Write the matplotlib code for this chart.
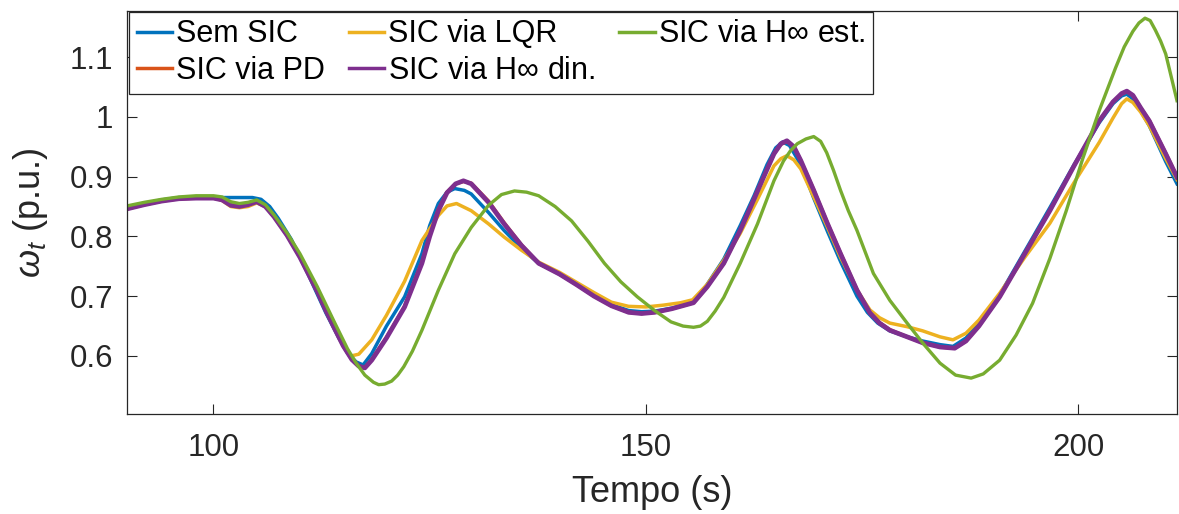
import matplotlib
matplotlib.use("Agg")
from matplotlib import pyplot as plt

plt.rcParams['font.family'] = ['Liberation Sans', 'DejaVu Sans']
plt.rcParams['mathtext.fontset'] = 'custom'
plt.rcParams['mathtext.rm'] = 'Liberation Sans'
plt.rcParams['mathtext.it'] = 'Liberation Sans:italic'

# tempo (s) and omega_t (p.u.)
sem_t = [90, 92, 94, 96, 98, 100, 102, 104.5, 105.5, 106.5, 107.5, 109, 111, 113, 114.5,
         115.5, 116.5, 117.3, 118.3, 120, 122.1, 124.1, 125, 126, 127, 127.9, 129, 129.8,
         131.8, 133.6, 135.6, 137.6, 140, 142, 144, 146, 148, 149.5, 151, 153, 155.5, 157,
         159, 160.9, 162.5, 164, 165, 165.8, 166.6, 167.5, 168.5, 169.4, 171, 172.5, 174.4,
         175.6, 176.8, 178.2, 180.2, 182, 184, 185.5, 187, 188.5, 190.9, 193.8, 196.7, 199.5,
         202.4, 204, 205, 205.6, 206.3, 207.2, 208.2, 210.1, 211.4]
sem_w = [0.849, 0.855, 0.861, 0.865, 0.865, 0.865, 0.865, 0.865, 0.862, 0.850, 0.830, 0.795,
         0.735, 0.672, 0.630, 0.605, 0.590, 0.585, 0.604, 0.650, 0.699, 0.771, 0.818, 0.855,
         0.874, 0.880, 0.877, 0.871, 0.840, 0.810, 0.780, 0.755, 0.737, 0.720, 0.702, 0.686,
         0.676, 0.674, 0.675, 0.680, 0.690, 0.718, 0.762, 0.818, 0.868, 0.920, 0.948, 0.958,
         0.952, 0.930, 0.898, 0.864, 0.808, 0.758, 0.700, 0.673, 0.655, 0.642, 0.632, 0.625,
         0.619, 0.616, 0.630, 0.655, 0.702, 0.775, 0.848, 0.920, 0.990, 1.022, 1.035, 1.038,
         1.030, 1.010, 0.985, 0.925, 0.888]

din_t = [90, 92, 94, 96, 98, 100, 101, 102, 103, 104, 105, 106, 107, 108.5, 110, 112, 113,
         114, 115, 116, 116.8, 117.5, 118.3, 120, 122.1, 124.1, 125, 126, 127, 128, 128.9,
         129.8, 131.8, 133.6, 135.6, 137.6, 140, 142, 144, 146, 148, 149.5, 151, 153, 155.5,
         157.1, 159, 160.9, 162.1, 163.6, 164.8, 165.6, 166.3, 167.1, 167.9, 169.4, 171,
         172.5, 174.4, 175.9, 177, 178.2, 180.2, 182, 184, 185.7, 187, 188.5, 190.9, 193.8,
         196.7, 199.5, 202.4, 204, 205, 205.6, 206.3, 207.2, 208.2, 210.1, 211.4]
din_w = [0.846, 0.853, 0.859, 0.863, 0.864, 0.864, 0.861, 0.852, 0.850, 0.853, 0.858, 0.850,
         0.833, 0.802, 0.765, 0.708, 0.676, 0.646, 0.617, 0.594, 0.583, 0.580, 0.593, 0.630,
         0.682, 0.755, 0.800, 0.843, 0.873, 0.888, 0.893, 0.888, 0.857, 0.821, 0.785, 0.755,
         0.737, 0.719, 0.700, 0.684, 0.673, 0.671, 0.673, 0.679, 0.689, 0.716, 0.755, 0.810,
         0.849, 0.899, 0.938, 0.955, 0.960, 0.950, 0.927, 0.877, 0.821, 0.771, 0.710, 0.672,
         0.655, 0.643, 0.632, 0.622, 0.615, 0.613, 0.625, 0.650, 0.699, 0.771, 0.843, 0.918,
         0.993, 1.025, 1.039, 1.043, 1.036, 1.015, 0.993, 0.938, 0.899]

pd_t = din_t
pd_w = [0.846, 0.853, 0.859, 0.863, 0.864, 0.864, 0.861, 0.852, 0.850, 0.853, 0.858, 0.850,
        0.833, 0.802, 0.765, 0.708, 0.676, 0.646, 0.617, 0.594, 0.583, 0.581, 0.594, 0.631,
        0.683, 0.757, 0.802, 0.845, 0.874, 0.888, 0.892, 0.889, 0.859, 0.823, 0.786, 0.755,
        0.737, 0.719, 0.700, 0.684, 0.673, 0.671, 0.673, 0.679, 0.689, 0.716, 0.755, 0.810,
        0.849, 0.899, 0.938, 0.954, 0.959, 0.950, 0.927, 0.878, 0.822, 0.772, 0.711, 0.673,
        0.656, 0.644, 0.632, 0.622, 0.615, 0.613, 0.625, 0.650, 0.699, 0.771, 0.843, 0.918,
        0.993, 1.025, 1.038, 1.042, 1.036, 1.015, 0.994, 0.939, 0.900]

lqr_t = [90, 92, 94, 96, 98, 100, 101, 102, 103, 104, 105, 106, 107, 108.5, 110, 112, 114,
         115, 115.9, 116.8, 118.3, 120, 122.1, 124.1, 126, 127, 128.1, 129.8, 131.8, 133.6,
         135.6, 137.6, 140, 142, 144, 146, 148, 150, 152, 154, 155.4, 157.1, 159, 160.9,
         162.9, 164.8, 165.6, 166.3, 167.1, 167.9, 169.4, 171, 172.5, 174.4, 175.9, 177,
         178.2, 180.2, 182, 184, 185.5, 187, 188.5, 190.9, 193.8, 196.7, 199.5, 202.4, 204,
         205, 205.6, 206.3, 207.2, 208.2, 210.1, 211.4]
lqr_w = [0.848, 0.854, 0.860, 0.864, 0.865, 0.865, 0.860, 0.850, 0.848, 0.850, 0.856, 0.850,
         0.834, 0.803, 0.766, 0.710, 0.652, 0.617, 0.600, 0.603, 0.627, 0.668, 0.725, 0.793,
         0.835, 0.851, 0.855, 0.843, 0.821, 0.799, 0.777, 0.757, 0.740, 0.723, 0.706, 0.690,
         0.683, 0.682, 0.685, 0.689, 0.694, 0.720, 0.760, 0.805, 0.862, 0.918, 0.930, 0.935,
         0.928, 0.913, 0.866, 0.815, 0.765, 0.710, 0.677, 0.664, 0.655, 0.649, 0.642, 0.632,
         0.627, 0.638, 0.660, 0.705, 0.765, 0.822, 0.890, 0.957, 0.998, 1.022, 1.030, 1.024,
         1.008, 0.985, 0.930, 0.895]

est_t = [90, 92, 94, 96, 98, 100, 101, 102, 103, 104, 105, 106, 107, 108.5, 110, 112, 114,
         115.5, 116.5, 117.5, 118.5, 119.1, 119.8, 120.6, 121.3, 122, 123, 124.1, 126, 127.9,
         129.8, 131.8, 133.3, 134.8, 136.2, 137.6, 139.5, 141.4, 143.3, 145.2, 147.1, 149,
         151, 152.9, 154.3, 155.5, 156.3, 157.1, 158, 159, 160.9, 162.9, 164.8, 165.9, 166.7,
         167.5, 168.5, 169.4, 170.2, 170.9, 171.7, 172.5, 173.4, 174.4, 176.3, 178.2, 180.2,
         182.1, 184, 185.8, 187.6, 189, 190.9, 192.8, 194.7, 196.7, 198.6, 200.5, 202.4,
         204.3, 205.3, 206.3, 207, 207.7, 208.3, 208.9, 209.5, 210.1, 211.4]
est_w = [0.851, 0.857, 0.862, 0.866, 0.868, 0.868, 0.866, 0.858, 0.855, 0.857, 0.861, 0.853,
         0.836, 0.806, 0.771, 0.716, 0.656, 0.612, 0.588, 0.568, 0.556, 0.552, 0.553, 0.558,
         0.568, 0.582, 0.608, 0.643, 0.710, 0.771, 0.815, 0.852, 0.870, 0.876, 0.874, 0.868,
         0.850, 0.826, 0.792, 0.755, 0.724, 0.699, 0.676, 0.657, 0.650, 0.648, 0.650, 0.658,
         0.675, 0.698, 0.755, 0.821, 0.893, 0.926, 0.943, 0.955, 0.963, 0.967, 0.959, 0.940,
         0.910, 0.877, 0.843, 0.810, 0.738, 0.693, 0.655, 0.620, 0.588, 0.568, 0.563, 0.570,
         0.593, 0.635, 0.688, 0.763, 0.843, 0.930, 1.010, 1.082, 1.117, 1.143, 1.157, 1.165,
         1.161, 1.145, 1.127, 1.105, 1.027]

x_ticks = [100, 150, 200]
y_ticks = [0.6, 0.7, 0.8, 0.9, 1.0, 1.1]
y_ticklabels = ['0.6', '0.7', '0.8', '0.9', '1', '1.1']

axis_col = '#262626'

fig = plt.figure(figsize=(11.79, 5.14), dpi=100)
ax = fig.add_axes([0.1077, 0.1946, 0.8906, 0.7840])

# matlab default colour order and plot order
ax.plot(sem_t, sem_w, color='#0072BD', lw=2.5, label='Sem SIC')
ax.plot(pd_t, pd_w, color='#D95319', lw=2.5, label='SIC via PD')
ax.plot(lqr_t, lqr_w, color='#EDB120', lw=2.5, label='SIC via LQR')
ax.plot(din_t, din_w, color='#7E2F8E', lw=3.4, label=r'SIC via H$\infty$ din.')
ax.plot(est_t, est_w, color='#77AC30', lw=2.4, label=r'SIC via H$\infty$ est.')

ax.set_xlim(90, 211.4)
ax.set_ylim(0.503, 1.177)
ax.set_xticks(x_ticks)
ax.set_yticks(y_ticks)
ax.set_yticklabels(y_ticklabels)

ax.tick_params(direction='in', length=7.5, width=0.8, colors=axis_col, labelsize=22.5,
               top=True, right=True, pad=10)
ax.tick_params(axis='x', pad=14)
for sp in ax.spines.values():
    sp.set_color(axis_col)
    sp.set_linewidth(0.9)

ax.set_xlabel('Tempo (s)', fontsize=26, color=axis_col, labelpad=8)
ax.set_ylabel(r'$\omega_t$ (p.u.)', fontsize=26, color=axis_col, labelpad=14)

leg = ax.legend(ncol=3, loc='upper left', bbox_to_anchor=(0.002, 0.998), fontsize=22,
                frameon=True, fancybox=False, framealpha=1, edgecolor=axis_col,
                handlelength=1.15, handletextpad=0.12, columnspacing=0.8,
                labelspacing=0.22, borderpad=0.25, borderaxespad=0)
leg.get_frame().set_linewidth(0.9)
for line in leg.get_lines():
    line.set_linewidth(2.5)

fig.savefig('out.png', dpi=100)
